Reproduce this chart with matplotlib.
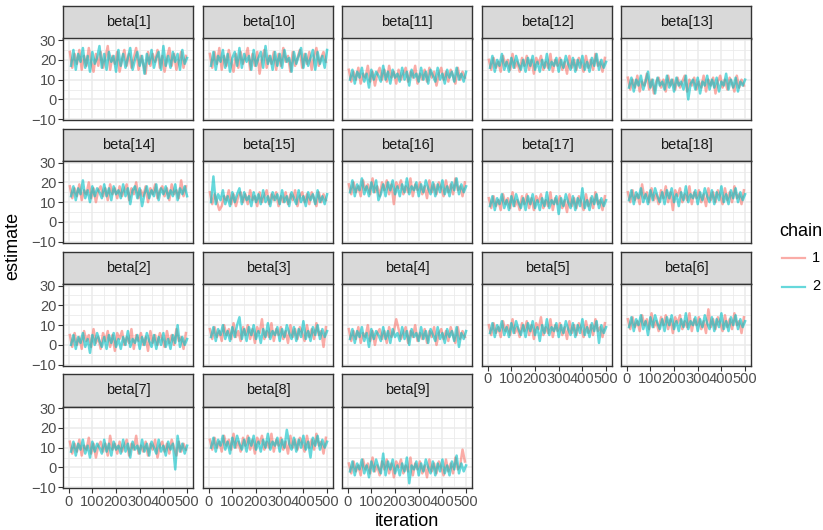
import numpy as np
import matplotlib
matplotlib.use('Agg')
import matplotlib.pyplot as plt
from matplotlib.lines import Line2D

plt.rcParams['font.family'] = ['Liberation Sans', 'DejaVu Sans']

# facet order as in the picture (alphabetical, as R sorts the labels)
params = ['beta[1]', 'beta[10]', 'beta[11]', 'beta[12]', 'beta[13]', 'beta[14]',
          'beta[15]', 'beta[16]', 'beta[17]', 'beta[18]', 'beta[2]', 'beta[3]',
          'beta[4]', 'beta[5]', 'beta[6]', 'beta[7]', 'beta[8]', 'beta[9]']
chains = ['1', '2']
x_ticks = [0, 100, 200, 300, 400, 500]
y_ticks = [-10, 0, 10, 20, 30]

# traces, one value every ~10 iterations
b1_c1 = [24,16,23,18,25,15,22,17,26,19,14,23,17,24,16,21,27,15,22,18,24,14,20,25,17,23,16,21,26,15,22,18,13,24,17,23,19,25,16,22,14,21,26,17,23,15,20,24,16,22]
b1_c2 = [17,25,15,23,19,26,16,22,14,24,18,21,27,16,23,15,24,19,22,14,25,17,23,16,21,26,15,20,24,17,22,13,23,18,25,16,21,24,15,27,17,22,16,24,19,23,15,25,18,21]
b10_c1 = [23,16,24,18,26,15,22,17,25,19,14,23,16,24,18,21,26,15,23,17,24,13,21,25,16,22,18,24,15,23,17,26,19,22,14,24,17,21,25,16,23,18,24,15,22,26,17,21,24,19]
b10_c2 = [17,24,15,22,19,25,16,23,14,21,24,17,26,16,23,19,22,15,25,17,21,24,16,27,18,22,15,24,17,23,16,25,19,21,14,24,18,22,26,16,23,17,21,25,15,24,18,22,16,25]
b11_c1 = [15,9,14,10,16,8,13,11,17,9,14,7,13,16,10,15,9,17,11,14,8,15,10,13,16,9,14,11,17,8,13,10,15,9,16,11,14,7,13,16,10,14,9,15,12,8,16,10,14,11]
b11_c2 = [10,15,8,14,11,16,9,13,6,15,10,14,12,9,17,10,14,8,15,11,13,9,16,10,14,7,15,11,13,9,16,10,14,8,15,12,9,16,10,13,8,15,11,14,9,16,10,13,9,14]
b12_c1 = [20,15,21,16,19,14,22,17,20,15,23,16,19,14,21,17,22,15,20,13,21,18,22,15,19,16,23,14,20,17,21,15,19,13,22,16,20,15,21,18,14,22,16,20,15,23,17,19,14,21]
b12_c2 = [16,22,14,20,17,23,15,19,14,21,16,22,18,15,20,14,21,17,22,15,19,14,20,16,23,15,19,17,21,14,20,16,22,18,15,21,14,20,16,22,15,19,14,21,17,23,15,20,16,19]
b13_c1 = [11,5,10,6,12,4,9,7,13,5,10,3,9,11,6,10,4,12,7,10,5,11,6,9,12,4,10,7,11,5,9,6,12,4,10,7,11,3,9,12,6,10,5,11,8,4,12,6,10,7]
b13_c2 = [6,11,4,10,7,12,5,9,14,6,10,3,11,7,9,5,12,6,10,4,11,7,9,5,12,0,8,10,5,11,3,9,7,12,5,10,6,11,4,9,7,13,5,10,6,11,4,9,7,10]
b14_c1 = [18,12,17,13,19,11,16,14,20,12,17,10,16,18,13,17,11,19,14,17,12,18,13,16,19,11,17,14,20,12,16,13,18,10,17,14,19,12,16,18,13,17,11,19,14,16,12,21,13,18]
b14_c2 = [13,18,11,17,14,21,12,16,10,18,13,17,15,12,19,13,17,11,18,14,16,12,19,13,17,9,16,18,12,17,8,14,18,12,16,13,19,11,17,14,18,12,16,13,19,11,17,14,18,13]
b15_c1 = [15,9,14,10,6,8,13,11,16,9,14,8,13,15,10,14,9,16,11,13,8,15,10,13,16,9,14,11,15,8,13,10,15,9,14,11,16,8,13,15,10,14,9,15,12,8,15,10,14,11]
b15_c2 = [10,23,9,14,11,16,9,13,8,15,10,14,17,9,15,11,13,8,15,10,14,9,16,10,13,8,15,11,14,9,16,10,13,8,15,12,9,16,10,13,8,15,11,14,9,16,10,13,9,14]
b16_c1 = [19,14,20,15,18,13,21,16,19,14,22,15,18,13,20,16,21,14,19,9,20,17,21,14,18,15,22,13,19,16,20,14,18,12,21,15,19,14,20,17,13,21,15,19,14,22,16,18,13,20]
b16_c2 = [15,21,13,19,16,22,14,18,13,20,15,21,11,14,19,13,20,16,21,14,18,13,19,15,22,14,18,16,20,13,19,15,21,17,14,20,13,19,15,21,14,18,13,20,16,22,14,19,15,18]
b17_c1 = [12,7,13,8,11,6,14,9,12,7,15,8,11,6,13,9,14,7,12,6,13,10,14,7,11,8,15,6,12,9,13,7,11,5,14,8,12,7,13,10,6,14,8,12,7,15,9,11,6,13]
b17_c2 = [8,13,6,12,9,14,7,11,6,13,8,14,10,7,12,6,13,9,14,7,11,6,12,8,15,7,11,9,13,4,12,8,14,10,7,13,6,12,8,17,7,11,6,13,9,14,7,12,8,11]
b18_c1 = [15,10,16,11,14,9,19,12,15,10,17,11,14,9,16,12,18,10,15,6,16,13,17,10,14,11,18,9,15,12,16,10,14,8,17,11,15,10,16,13,9,17,11,15,10,18,12,14,9,16]
b18_c2 = [11,16,9,15,12,17,10,14,9,16,11,17,13,10,15,9,16,12,17,10,14,8,15,11,18,10,14,12,16,9,15,11,17,13,10,16,9,15,11,18,10,14,9,16,12,17,10,15,11,14]
b2_c1 = [5,-1,6,0,4,-2,7,2,5,-1,8,1,4,-2,6,2,7,-1,5,-3,6,3,7,0,4,1,8,-2,5,2,6,0,4,-3,7,1,5,0,6,3,-1,7,1,5,0,8,2,4,-2,6]
b2_c2 = [0,5,-2,4,1,6,-1,3,-4,5,0,6,2,-1,4,-2,5,1,6,-1,3,-2,4,0,7,-1,3,1,5,-2,4,0,6,2,-1,5,-2,4,0,6,-1,3,-2,5,1,10,-1,4,0,3]
b3_c1 = [8,3,9,4,7,2,10,5,8,3,11,4,7,2,9,5,10,3,8,1,9,6,13,3,7,4,11,2,8,5,9,3,7,1,10,4,8,3,9,6,2,10,4,8,3,11,5,7,-1,9]
b3_c2 = [4,9,2,8,5,10,3,7,2,9,4,10,14,3,8,2,9,5,10,3,7,1,8,4,11,3,7,5,9,2,8,4,10,6,3,9,2,8,4,12,3,7,2,9,5,10,3,8,4,7]
b4_c1 = [8,2,7,3,9,1,6,4,10,2,7,0,6,8,3,7,1,9,4,7,13,8,3,6,9,1,7,4,10,2,6,3,8,1,7,4,9,0,6,8,3,7,2,9,5,1,9,3,7,4]
b4_c2 = [3,8,1,7,4,9,2,6,-1,8,3,7,5,2,9,3,7,1,8,4,6,2,9,3,7,0,8,4,6,2,9,3,7,1,8,5,2,9,3,6,1,8,4,7,2,9,-1,6,3,7]
b5_c1 = [10,5,11,6,9,4,12,7,10,5,13,6,9,4,11,7,12,5,10,3,11,8,14,5,9,6,13,4,10,7,11,5,9,3,12,6,10,5,11,8,4,12,6,10,5,13,7,9,4,11]
b5_c2 = [6,11,4,10,7,12,5,9,4,11,6,12,8,5,10,4,11,7,12,5,9,2,10,6,13,5,9,7,11,4,10,6,12,8,5,11,4,10,6,13,5,9,4,11,7,12,1,10,6,9]
b6_c1 = [13,8,14,9,12,7,15,10,13,8,16,9,12,7,14,10,15,8,13,6,14,11,15,8,12,9,16,7,13,10,14,8,12,6,18,9,13,8,14,11,7,15,9,13,8,16,10,12,6,14]
b6_c2 = [9,14,7,13,10,15,8,12,5,14,9,15,11,8,13,7,14,10,15,8,12,7,13,9,16,8,12,10,14,7,13,9,15,11,8,14,7,13,9,16,8,12,7,14,10,15,8,13,9,12]
b7_c1 = [13,7,12,8,14,6,11,9,15,7,12,5,11,13,8,12,6,16,9,12,7,13,8,11,14,6,12,9,16,7,11,8,13,6,12,9,14,5,11,13,8,12,7,14,10,6,13,8,12,9]
b7_c2 = [8,13,6,12,9,14,7,11,5,13,8,12,10,7,14,8,12,6,13,9,11,7,14,8,12,5,13,9,11,7,14,8,12,6,13,10,7,14,8,11,6,13,9,12,-1,16,8,12,7,11]
b8_c1 = [14,9,15,10,13,8,16,11,14,9,17,10,13,8,15,11,16,9,14,7,15,12,16,9,13,10,17,8,14,11,15,9,13,7,16,10,14,9,15,12,8,16,10,14,9,17,11,13,7,15]
b8_c2 = [10,15,8,14,11,16,9,13,7,15,10,16,12,9,14,8,15,11,16,9,13,8,14,10,17,9,13,11,15,8,14,10,19,12,9,15,8,14,10,16,9,13,5,15,11,16,9,14,10,13]
b9_c1 = [2,-3,3,-2,1,-4,4,-1,2,-3,5,-2,1,-4,3,-1,4,-3,2,-5,3,0,4,-3,1,-2,5,-4,2,-1,3,-3,1,-5,4,-2,2,-3,3,0,-4,4,-2,2,-3,5,-1,1,9,3]
b9_c2 = [-2,3,-4,2,-1,4,-3,1,-5,3,-2,4,0,-3,7,-4,3,-1,4,-3,1,-4,2,-2,5,-8,1,-1,3,-4,2,-2,4,0,-3,3,-4,2,-2,4,-3,1,-4,3,-1,6,-3,2,-2,1]

traces = [(b1_c1, b1_c2), (b10_c1, b10_c2), (b11_c1, b11_c2), (b12_c1, b12_c2),
          (b13_c1, b13_c2), (b14_c1, b14_c2), (b15_c1, b15_c2), (b16_c1, b16_c2),
          (b17_c1, b17_c2), (b18_c1, b18_c2), (b2_c1, b2_c2), (b3_c1, b3_c2),
          (b4_c1, b4_c2), (b5_c1, b5_c2), (b6_c1, b6_c2), (b7_c1, b7_c2),
          (b8_c1, b8_c2), (b9_c1, b9_c2)]

colors = ['#F8766D', '#00BFC4']

W, H = 823, 530
fig = plt.figure(figsize=(W / 100, H / 100), dpi=100)

def box(x, y, w, h):
    return [x / W, 1 - (y + h) / H, w / W, h / H]

col_x = [63, 203, 342, 482, 621]
row_y = [6, 128.5, 251.5, 374]
pw, sh, ph = 130, 32.5, 81.5
ncol = 5
n = len(params)

for i, name in enumerate(params):
    r, c = divmod(i, ncol)
    x0, y0 = col_x[c], row_y[r]

    st = fig.add_axes(box(x0, y0, pw, sh))
    st.set_facecolor('#D9D9D9')
    st.set_xticks([]); st.set_yticks([])
    for s in st.spines.values():
        s.set_color('#333333'); s.set_linewidth(1.0)
    st.text(0.5, 0.5, name, ha='center', va='center', fontsize=10.5, color='#1A1A1A',
            transform=st.transAxes)

    ax = fig.add_axes(box(x0, y0 + sh, pw, ph))
    for k, ch in enumerate(traces[i]):
        # chain 2 sampled half a step later so the two traces interleave
        it = np.linspace(5 + 5 * k, 495 + 5 * k, len(ch))
        ax.plot(it, ch, color=colors[k], alpha=0.6, lw=1.8)
    ax.set_xlim(-24, 525)
    ax.set_ylim(-10.4, 30.8)
    ax.set_xticks(x_ticks)
    ax.set_xticks([50, 150, 250, 350, 450], minor=True)
    ax.set_yticks(y_ticks)
    ax.set_yticks([-5, 5, 15, 25], minor=True)
    ax.grid(which='major', color='#EBEBEB', lw=1.1)
    ax.grid(which='minor', color='#EBEBEB', lw=0.6)
    ax.set_axisbelow(True)
    for s in ax.spines.values():
        s.set_color('#333333'); s.set_linewidth(1.0)
    ax.tick_params(which='minor', length=0)
    ax.tick_params(which='major', length=3.3, width=0.8, color='#333333',
                   labelsize=10.5, labelcolor='#4D4D4D', pad=1.5)
    bottom = (i + ncol >= n)
    left = (c == 0)
    ax.tick_params(axis='x', bottom=bottom, labelbottom=bottom)
    ax.tick_params(axis='y', left=left, labelleft=left)

fig.text(407 / W, 1 - 521 / H, 'iteration', ha='center', va='center', fontsize=13)
fig.text(13 / W, 1 - 246 / H, 'estimate', ha='center', va='center', rotation=90, fontsize=13)

# legend drawn by hand so it sits where ggplot puts it
fig.text(779 / W, 1 - 231 / H, 'chain', ha='left', va='center', fontsize=13)
for k, lab in enumerate(chains):
    yk = 1 - (258 + 28.5 * k) / H
    fig.add_artist(Line2D([782 / W, 805 / W], [yk, yk], color=colors[k], alpha=0.6, lw=1.6))
    fig.text(812 / W, yk, lab, ha='left', va='center', fontsize=10.5)

fig.savefig('out.png', dpi=100)
